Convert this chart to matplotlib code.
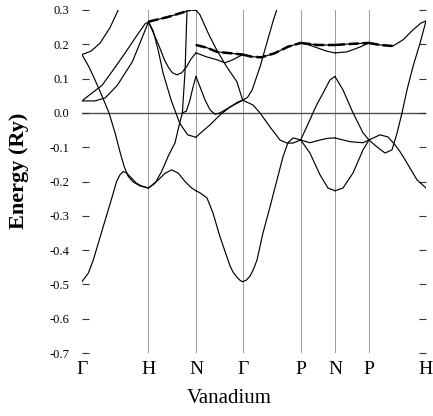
import numpy as np
import matplotlib
matplotlib.use("Agg")
import matplotlib.pyplot as plt

plt.rcParams['font.family'] = ['Liberation Serif', 'DejaVu Serif']

# high-symmetry points along the path (path length units)
kpt_labels = ["Γ", "H", "N", "Γ", "P", "N", "P", "H"]
kpt_pos = [0.0, 1.0, 1.715, 2.418, 3.29, 3.807, 4.318, 5.176]
yticks = [-0.7, -0.6, -0.5, -0.4, -0.3, -0.2, -0.1, 0.0, 0.1, 0.2, 0.3]
ytick_labels = ["-0.7", "-0.6", "-0.5", "-0.4", "-0.3", "-0.2", "-0.1", "0.0", "0.1", "0.2", "0.3"]

# ---- Gamma -> H ----
gh1_k = [0, 0.095, 0.17, 0.245, 0.32, 0.395, 0.47, 0.52, 0.57, 0.62, 0.67, 0.745, 0.82, 0.895, 1.0]
gh1_e = [-0.492, -0.467, -0.429, -0.380, -0.331, -0.283, -0.234, -0.200, -0.181, -0.171, -0.175, -0.190, -0.205, -0.213, -0.219]
gh2_k = [0, 0.105, 0.196, 0.30, 0.406, 0.497, 0.572, 0.632, 0.692, 0.767, 0.873, 1.0]
gh2_e = [0.17, 0.134, 0.096, 0.050, 0.0, -0.058, -0.114, -0.155, -0.184, -0.201, -0.213, -0.219]
gh3_k = [0, 0.135, 0.27, 0.42, 0.545, 0.65]
gh3_e = [0.17, 0.18, 0.203, 0.248, 0.30, 0.35]
gh4_k = [0, 0.15, 0.30, 0.45, 0.65, 0.83, 0.95, 1.0]
gh4_e = [0.035, 0.058, 0.080, 0.120, 0.175, 0.227, 0.260, 0.265]
gh5_k = [0, 0.2, 0.35, 0.53, 0.76, 0.91, 1.0]
gh5_e = [0.035, 0.035, 0.044, 0.080, 0.150, 0.222, 0.265]

# ---- H -> N ----
hn1_k = [1.0, 1.3, 1.55, 1.65, 1.715]
hn1_e = [0.266, 0.280, 0.295, 0.302, 0.300]
hn2_k = [1.0, 1.07, 1.17, 1.24, 1.30, 1.36, 1.43, 1.50, 1.575, 1.64, 1.715]
hn2_e = [0.265, 0.235, 0.190, 0.155, 0.133, 0.117, 0.111, 0.117, 0.135, 0.157, 0.175]
hn3_k = [1.0, 1.07, 1.15, 1.22, 1.34, 1.47, 1.59, 1.715]
hn3_e = [0.265, 0.240, 0.180, 0.116, 0.038, -0.030, -0.064, -0.071]
hn4_k = [1.0, 1.15, 1.25, 1.35, 1.45, 1.55, 1.65, 1.715]
hn4_e = [-0.219, -0.195, -0.176, -0.166, -0.176, -0.200, -0.219, -0.227]
hn5_k = [1.0, 1.1, 1.2, 1.3, 1.4, 1.45, 1.51, 1.55, 1.58, 1.60]
hn5_e = [-0.219, -0.205, -0.170, -0.125, -0.087, -0.045, 0.0, 0.120, 0.300, 0.380]
hn6_k = [1.51, 1.57, 1.625, 1.67, 1.715]
hn6_e = [0.0, 0.005, 0.038, 0.075, 0.106]

# ---- N -> Gamma ----
ng1_k = [1.715, 1.775, 1.90, 2.025, 2.175, 2.33, 2.418]
ng1_e = [0.300, 0.286, 0.232, 0.184, 0.135, 0.091, 0.037]
ng2_k = [1.715, 1.88, 2.03, 2.18, 2.33, 2.418]
ng2_e = [0.198, 0.190, 0.178, 0.175, 0.172, 0.170]
ng3_k = [1.715, 1.88, 2.03, 2.15, 2.27, 2.418]
ng3_e = [0.175, 0.163, 0.155, 0.146, 0.155, 0.170]
ng4_k = [1.715, 1.775, 1.851, 1.926, 2.001, 2.076, 2.227, 2.347, 2.418]
ng4_e = [0.106, 0.076, 0.038, 0.009, -0.004, 0.0, 0.017, 0.032, 0.037]
ng5_k = [1.715, 1.775, 1.926, 2.076, 2.227, 2.418]
ng5_e = [-0.071, -0.060, -0.035, -0.006, 0.017, 0.037]
ng6_k = [1.715, 1.775, 1.881, 1.971, 2.076, 2.181, 2.227, 2.272, 2.327, 2.377, 2.418]
ng6_e = [-0.227, -0.233, -0.248, -0.292, -0.361, -0.420, -0.446, -0.464, -0.478, -0.488, -0.492]

# ---- Gamma -> P ----
gp1_k = [2.418, 2.55, 2.70, 2.90, 3.10, 3.29]
gp1_e = [0.170, 0.164, 0.162, 0.174, 0.193, 0.204]
gp2_k = [2.418, 2.49, 2.56, 2.68, 2.78, 2.88, 2.93, 2.98]
gp2_e = [0.037, 0.045, 0.067, 0.135, 0.203, 0.271, 0.300, 0.335]
gp3_k = [2.418, 2.573, 2.678, 2.829, 2.979, 3.084, 3.175, 3.29]
gp3_e = [0.037, 0.023, 0.0, -0.041, -0.079, -0.088, -0.088, -0.079]
gp4_k = [2.418, 2.47, 2.528, 2.58, 2.633, 2.723, 2.829, 2.934, 3.024, 3.099, 3.175, 3.29]
gp4_e = [-0.492, -0.488, -0.476, -0.456, -0.429, -0.350, -0.274, -0.195, -0.128, -0.087, -0.073, -0.079]

# ---- P -> N ----
pn1_k = [3.29, 3.55, 3.807]
pn1_e = [0.204, 0.198, 0.198]
pn2_k = [3.29, 3.42, 3.55, 3.68, 3.807]
pn2_e = [0.204, 0.198, 0.189, 0.180, 0.175]
pn3_k = [3.29, 3.43, 3.475, 3.535, 3.625, 3.73, 3.807]
pn3_e = [-0.079, -0.020, 0.0, 0.025, 0.057, 0.096, 0.106]
pn4_k = [3.29, 3.43, 3.58, 3.70, 3.807]
pn4_e = [-0.079, -0.087, -0.079, -0.074, -0.073]
pn5_k = [3.29, 3.43, 3.58, 3.70, 3.807]
pn5_e = [-0.079, -0.117, -0.180, -0.219, -0.227]

# ---- N -> P ----
np1_k = [3.807, 4.033, 4.318]
np1_e = [0.198, 0.201, 0.204]
np2_k = [3.807, 3.988, 4.183, 4.318]
np2_e = [0.175, 0.178, 0.192, 0.204]
np3_k = [3.807, 3.927, 4.078, 4.228, 4.318]
np3_e = [0.106, 0.067, 0.0, -0.058, -0.079]
np4_k = [3.807, 4.033, 4.228, 4.318]
np4_e = [-0.073, -0.084, -0.087, -0.079]
np5_k = [3.807, 3.927, 4.078, 4.228, 4.318]
np5_e = [-0.227, -0.219, -0.175, -0.108, -0.079]

# ---- P -> H ----
ph1_k = [4.318, 4.483, 4.679, 4.83, 4.98, 5.10, 5.176]
ph1_e = [0.204, 0.198, 0.195, 0.213, 0.242, 0.262, 0.268]
ph2_k = [4.318, 4.438, 4.559, 4.664, 4.739, 4.815, 4.89, 4.98, 5.086, 5.176]
ph2_e = [-0.079, -0.099, -0.117, -0.108, -0.060, 0.0, 0.067, 0.135, 0.203, 0.268]
ph3_k = [4.318, 4.483, 4.604, 4.709, 4.785, 4.89, 5.04, 5.176]
ph3_e = [-0.079, -0.064, -0.070, -0.093, -0.113, -0.146, -0.195, -0.219]

thin_bands = [
    (gh1_k, gh1_e), (gh2_k, gh2_e), (gh3_k, gh3_e), (gh4_k, gh4_e), (gh5_k, gh5_e),
    (hn1_k, hn1_e), (hn2_k, hn2_e), (hn3_k, hn3_e), (hn4_k, hn4_e), (hn5_k, hn5_e), (hn6_k, hn6_e),
    (ng1_k, ng1_e), (ng2_k, ng2_e), (ng3_k, ng3_e), (ng4_k, ng4_e), (ng5_k, ng5_e), (ng6_k, ng6_e),
    (gp1_k, gp1_e), (gp2_k, gp2_e), (gp3_k, gp3_e), (gp4_k, gp4_e),
    (pn1_k, pn1_e), (pn2_k, pn2_e), (pn3_k, pn3_e), (pn4_k, pn4_e), (pn5_k, pn5_e),
    (np1_k, np1_e), (np2_k, np2_e), (np3_k, np3_e), (np4_k, np4_e), (np5_k, np5_e),
    (ph1_k, ph1_e), (ph2_k, ph2_e), (ph3_k, ph3_e),
]
thick_bands = [(hn1_k, hn1_e), (ng2_k, ng2_e), (gp1_k, gp1_e), (pn1_k, pn1_e), (np1_k, np1_e)]

fig = plt.figure(figsize=(4.33, 4.16), dpi=100)
ax = fig.add_axes([82 / 433, 1 - 353 / 416, (426 - 82) / 433, (353 - 10) / 416])
ax.set_xlim(kpt_pos[0], kpt_pos[-1])
ax.set_ylim(-0.7, 0.3)

for p in kpt_pos[1:-1]:
    ax.axvline(p, color='0.6', lw=0.7, zorder=1)
ax.axhline(0.0, color='0.3', lw=1.0, zorder=1)

for k, e in thin_bands:
    ax.plot(k, e, color='black', lw=0.85, zorder=3)
for k, e in thick_bands:
    ax.plot(k, e, color='black', lw=1.8, ls=(0, (4, 1.5)), zorder=4)
ph1_k_arr = np.array(ph1_k)
ph1_e_arr = np.array(ph1_e)
m = ph1_k_arr <= 4.72
ax.plot(ph1_k_arr[m], ph1_e_arr[m], color='black', lw=1.8, ls=(0, (4, 1.5)), zorder=4)

for s in ax.spines.values():
    s.set_visible(False)
ax.set_yticks(yticks)
ax.set_yticklabels(ytick_labels, fontsize=9)
ax.tick_params(axis='y', direction='in', length=5, width=0.8, right=True, left=True, pad=9, color='0.2')
ax.set_xticks(kpt_pos)
ax.set_xticklabels(kpt_labels, fontsize=14)
ax.tick_params(axis='x', length=0, pad=6)
ax.set_ylabel("Energy (Ry)", fontsize=16, fontweight='bold')
ax.yaxis.set_label_coords(-0.155, 0.53)
ax.set_xlabel("Vanadium", fontsize=15)
ax.xaxis.set_label_coords(0.427, -0.105)

fig.savefig("out.png", dpi=100)
